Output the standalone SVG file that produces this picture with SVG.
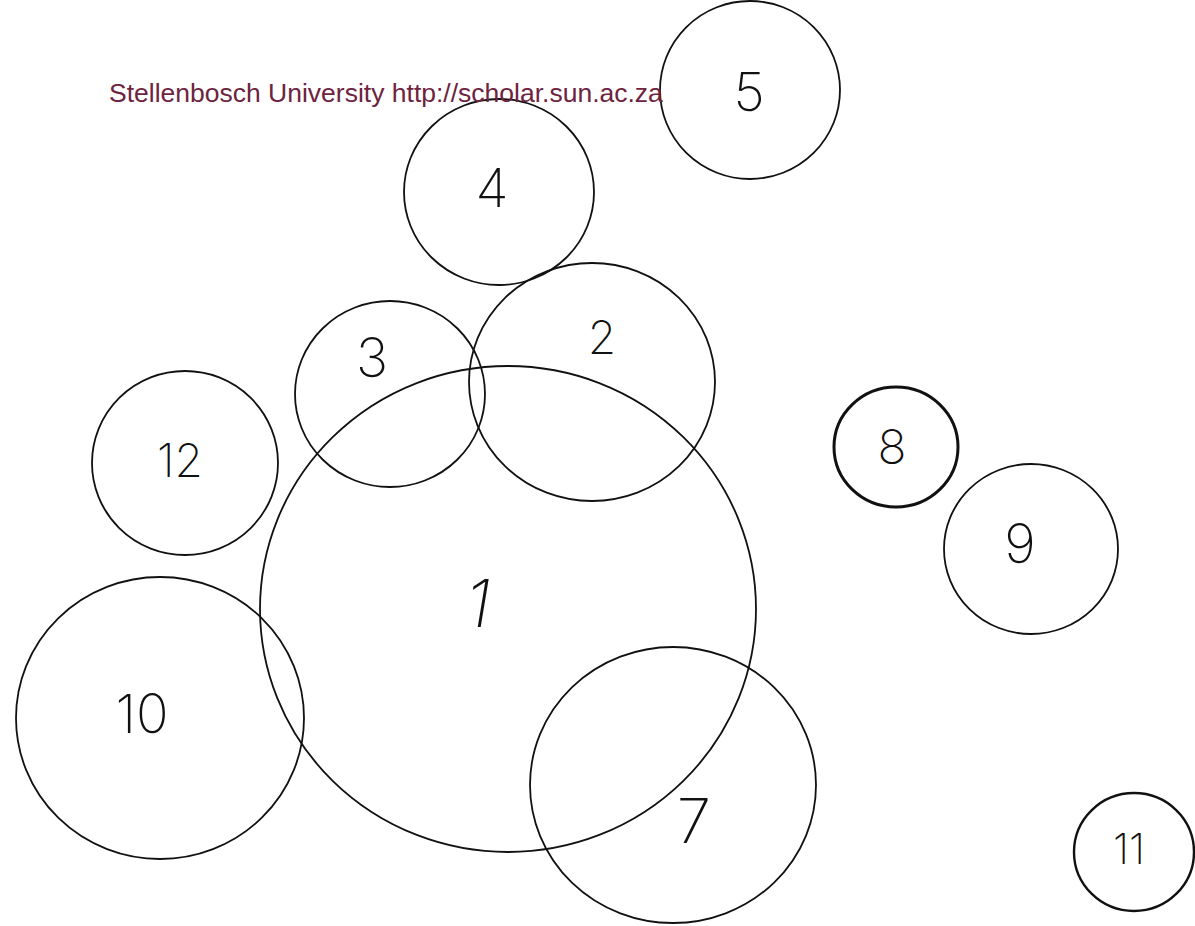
<svg xmlns="http://www.w3.org/2000/svg" width="1195" height="926" viewBox="0 0 1195 926">
<style>
.c{fill:none;stroke:#111;stroke-width:1.8}
.thick{stroke-width:3}
.mid{stroke-width:2.4}
.lbl{font-family:"Inter","Liberation Sans",sans-serif;font-weight:200;font-size:54px;fill:#111;text-anchor:middle;dominant-baseline:central}
.wm{font-family:"Liberation Sans",Arial,sans-serif;font-size:26.5px;fill:#6e2340}
</style>
<rect width="1195" height="926" fill="#fff"/>
<g id="node1"><ellipse class="c" cx="508" cy="609" rx="248" ry="243"/><text class="lbl" x="478" y="603" font-size="66" style="font-size:66px;font-style:italic">1</text></g>
<g id="node2"><ellipse class="c" cx="592" cy="382" rx="123" ry="119"/><text class="lbl" x="602" y="337" style="font-size:46px">2</text></g>
<g id="node3"><ellipse class="c" cx="390" cy="394" rx="95" ry="93"/><text class="lbl" x="372" y="357">3</text></g>
<g id="node4"><ellipse class="c" cx="499" cy="192" rx="95" ry="93"/><text class="lbl" x="492" y="187">4</text></g>
<g id="node5"><ellipse class="c" cx="750" cy="90" rx="90" ry="89"/><text class="lbl" x="749" y="91">5</text></g>
<g id="node7"><ellipse class="c" cx="673" cy="785" rx="143" ry="138"/><text class="lbl" x="694" y="820" style="font-size:62px">7</text></g>
<g id="node8"><ellipse class="c thick" cx="896" cy="447" rx="62" ry="60"/><text class="lbl" x="892" y="446" style="font-size:48px">8</text></g>
<g id="node9"><ellipse class="c" cx="1031" cy="549" rx="87" ry="85"/><text class="lbl" x="1020" y="543">9</text></g>
<g id="node10"><ellipse class="c" cx="160" cy="718" rx="144" ry="141"/><text class="lbl" x="142" y="713">10</text></g>
<g id="node11"><ellipse class="c mid" cx="1134" cy="852" rx="60" ry="59"/><text class="lbl" x="1129" y="848" style="font-size:42px">11</text></g>
<g id="node12"><ellipse class="c" cx="185" cy="463" rx="93" ry="92"/><text class="lbl" x="180" y="460" style="font-size:46px">12</text></g>
<g id="connectors"/>
<text class="wm" x="109" y="102">Stellenbosch University http://scholar.sun.ac.za</text>
</svg>
